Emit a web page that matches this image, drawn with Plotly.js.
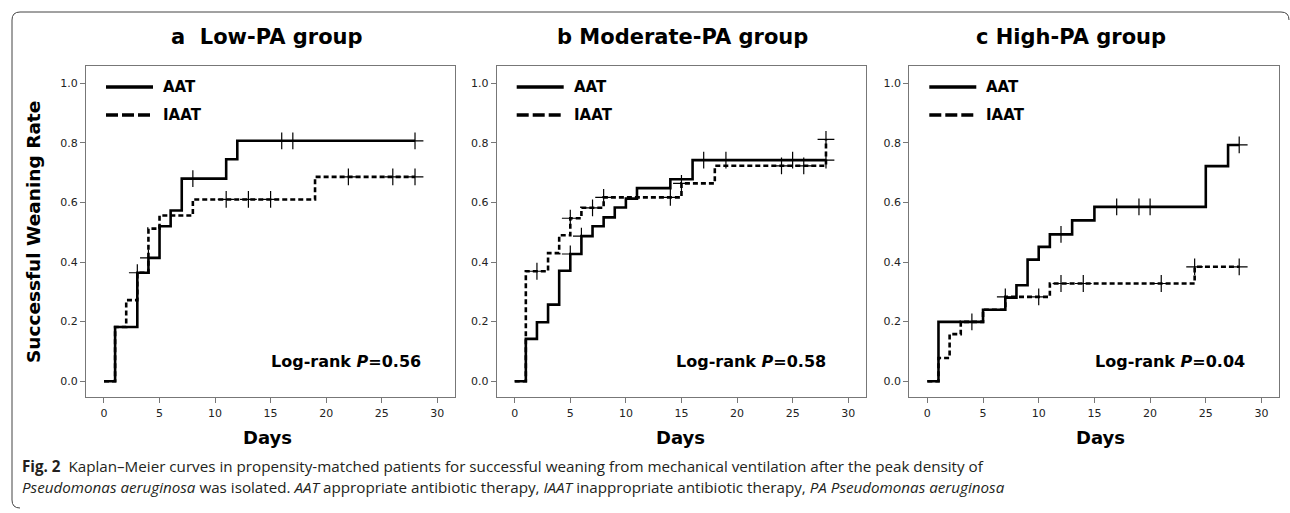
<!DOCTYPE html>
<html>
<head>
<meta charset="utf-8">
<script src="https://cdn.plot.ly/plotly-3.0.1.min.js"></script>
<style>html,body{margin:0;padding:0;background:#fff;}#chart{width:1290px;height:513px;}</style>
</head>
<body>
<div id="chart"></div>
<script>
// ---------- DATA ----------
const panelTitles = ["a\u00a0\u00a0Low-PA group", "b Moderate-PA group", "c High-PA group"];
const pValues = ["0.56", "0.58", "0.04"];
const seriesNames = ["AAT", "IAAT"];

// Panel a: Low-PA
const lowAAT_t   = [0, 1, 3, 4, 5, 6, 7, 11, 12, 28];
const lowAAT_s   = [0, 0.182, 0.364, 0.414, 0.520, 0.573, 0.680, 0.745, 0.807, 0.807];
const lowAAT_c   = [3, 4, 8, 16, 17, 28];
const lowIAAT_t  = [0, 1, 2, 3, 4, 5, 8, 19, 28];
const lowIAAT_s  = [0, 0.182, 0.272, 0.364, 0.512, 0.556, 0.610, 0.686, 0.686];
const lowIAAT_c  = [11, 13, 15, 22, 26, 28];

// Panel b: Moderate-PA
const modAAT_t   = [0, 1, 2, 3, 4, 5, 6, 7, 8, 9, 10, 11, 14, 16, 28];
const modAAT_s   = [0, 0.142, 0.198, 0.257, 0.371, 0.427, 0.487, 0.520, 0.550, 0.583, 0.613, 0.648, 0.678, 0.742, 0.742];
const modAAT_c   = [5, 6, 17, 19, 25, 28];
const modIAAT_t  = [0, 1, 3, 4, 5, 6, 8, 15, 18, 28];
const modIAAT_s  = [0, 0.369, 0.430, 0.490, 0.547, 0.582, 0.617, 0.664, 0.723, 0.812];
const modIAAT_c  = [2, 5, 7, 8, 14, 15, 24, 26, 28];

// Panel c: High-PA
const highAAT_t  = [0, 1, 5, 7, 8, 9, 10, 11, 13, 15, 25, 27, 28];
const highAAT_s  = [0, 0.199, 0.240, 0.280, 0.322, 0.408, 0.451, 0.493, 0.540, 0.585, 0.722, 0.793, 0.793];
const highAAT_c  = [4, 12, 17, 19, 20, 28];
const highIAAT_t = [0, 1, 2, 3, 5, 7, 11, 24, 28];
const highIAAT_s = [0, 0.078, 0.158, 0.199, 0.240, 0.283, 0.328, 0.384, 0.384];
const highIAAT_c = [7, 10, 12, 14, 21, 24, 28];

const xTicks = [0, 5, 10, 15, 20, 25, 30];
const yTicks = [0, 0.2, 0.4, 0.6, 0.8, 1.0];
const yTickText = ["0.0", "0.2", "0.4", "0.6", "0.8", "1.0"];

// ---------- LAYOUT HELPERS ----------
const W = 1290, H = 513;
const PX = v => v / W, PY = v => 1 - v / H;
const panelsX = [[86, 455], [496.7, 866], [909.3, 1279.3]];
const panelY = [66, 397.3];
const titleX = [267, 682, 1071];
const daysX = [267, 680, 1100];
const logrankRight = [422.7, 828, 1247];
const FONT = "DejaVu Sans, Liberation Sans, Arial, sans-serif";

const panels = [
  {aT: lowAAT_t, aS: lowAAT_s, aC: lowAAT_c, iT: lowIAAT_t, iS: lowIAAT_s, iC: lowIAAT_c},
  {aT: modAAT_t, aS: modAAT_s, aC: modAAT_c, iT: modIAAT_t, iS: modIAAT_s, iC: modIAAT_c},
  {aT: highAAT_t, aS: highAAT_s, aC: highAAT_c, iT: highIAAT_t, iS: highIAAT_s, iC: highIAAT_c}
];

function stepAt(t, s, x) {
  let v = s[0];
  for (let i = 0; i < t.length; i++) { if (t[i] <= x) v = s[i]; }
  return v;
}

const traces = [];
const layout = {
  width: W, height: H,
  margin: {l: 0, r: 0, t: 0, b: 0},
  paper_bgcolor: "#fff", plot_bgcolor: "#fff",
  showlegend: false,
  annotations: [], shapes: []
};

panels.forEach((p, k) => {
  const xa = k === 0 ? "x" : "x" + (k + 1);
  const ya = k === 0 ? "y" : "y" + (k + 1);
  const lineCommon = {mode: "lines", line: {shape: "hv", color: "#000", width: 2.6}, xaxis: xa, yaxis: ya, hoverinfo: "skip"};
  traces.push(Object.assign({}, lineCommon, {x: p.iT, y: p.iS, name: seriesNames[1], line: {shape: "hv", color: "#000", width: 2.6, dash: "5px,3px"}}));
  traces.push(Object.assign({}, lineCommon, {x: p.aT, y: p.aS, name: seriesNames[0]}));
  const mk = {mode: "markers", marker: {symbol: "cross-thin", size: 12, line: {color: "#000", width: 1.2}}, xaxis: xa, yaxis: ya, hoverinfo: "skip"};
  traces.push(Object.assign({}, mk, {x: p.aC, y: p.aC.map(c => stepAt(p.aT, p.aS, c))}));
  traces.push(Object.assign({}, mk, {x: p.iC, y: p.iC.map(c => stepAt(p.iT, p.iS, c))}));

  const axCommon = {
    showline: true, mirror: true, linecolor: "#777", linewidth: 1,
    ticks: "outside", ticklen: 5, tickcolor: "#777", tickwidth: 1,
    showgrid: false, zeroline: false,
    tickfont: {family: FONT, size: 11, color: "#222"}, fixedrange: true
  };
  layout["xaxis" + (k === 0 ? "" : k + 1)] = Object.assign({}, axCommon, {
    domain: [PX(panelsX[k][0]), PX(panelsX[k][1])], anchor: ya,
    range: [-1.62, 31.6], tickvals: xTicks, ticktext: xTicks.map(String)
  });
  layout["yaxis" + (k === 0 ? "" : k + 1)] = Object.assign({}, axCommon, {
    domain: [PY(panelY[1]), PY(panelY[0])], anchor: xa,
    range: [-0.054, 1.058], tickvals: yTicks, ticktext: yTickText
  });

  // panel titles
  layout.annotations.push({text: "<b>" + panelTitles[k] + "</b>", x: PX(titleX[k]), y: PY(37), xref: "paper", yref: "paper",
    xanchor: "center", yanchor: "middle", showarrow: false, font: {family: FONT, size: 21, color: "#000"}});
  // Days
  layout.annotations.push({text: "<b>Days</b>", x: PX(daysX[k]), y: PY(437), xref: "paper", yref: "paper",
    xanchor: "center", yanchor: "middle", showarrow: false, font: {family: FONT, size: 18, color: "#000"}});
  // log-rank
  layout.annotations.push({text: "<b>Log-rank <i>P</i>=" + pValues[k] + "</b>", x: PX(logrankRight[k]), y: PY(361), xref: "paper", yref: "paper",
    xanchor: "right", yanchor: "middle", showarrow: false, font: {family: FONT, size: 16, color: "#000"}});
  // legend
  const L = panelsX[k][0];
  layout.shapes.push({type: "line", xref: "paper", yref: "paper", x0: PX(L + 20), x1: PX(L + 67), y0: PY(87), y1: PY(87), line: {color: "#000", width: 3.5}});
  layout.shapes.push({type: "line", xref: "paper", yref: "paper", x0: PX(L + 20), x1: PX(L + 67), y0: PY(115), y1: PY(115), line: {color: "#000", width: 3.5, dash: "12px,4px"}});
  layout.annotations.push({text: "<b>" + seriesNames[0] + "</b>", x: PX(L + 75), y: PY(87), xref: "paper", yref: "paper",
    xanchor: "left", yanchor: "middle", showarrow: false, font: {family: FONT, size: 15, color: "#000"}});
  layout.annotations.push({text: "<b>" + seriesNames[1] + "</b>", x: PX(L + 75), y: PY(115), xref: "paper", yref: "paper",
    xanchor: "left", yanchor: "middle", showarrow: false, font: {family: FONT, size: 15, color: "#000"}});
});

// y-axis title
layout.annotations.push({text: "<b>Successful Weaning Rate</b>", x: PX(33), y: PY(232), xref: "paper", yref: "paper",
  xanchor: "center", yanchor: "middle", textangle: -90, showarrow: false, font: {family: FONT, size: 18.5, color: "#000"}});

// caption
const CAP = "Open Sans, Noto Sans, sans-serif";
layout.annotations.push({text: "<b>Fig. 2</b>\u00a0\u00a0Kaplan\u2013Meier curves in propensity-matched patients for successful weaning from mechanical ventilation after the peak density of",
  x: PX(20), y: PY(466), xref: "paper", yref: "paper", xanchor: "left", yanchor: "middle", showarrow: false, font: {family: CAP, size: 15.2, color: "#231f20"}});
layout.annotations.push({text: "<i>Pseudomonas aeruginosa</i> was isolated. <i>AAT</i> appropriate antibiotic therapy, <i>IAAT</i> inappropriate antibiotic therapy, <i>PA Pseudomonas aeruginosa</i>",
  x: PX(20), y: PY(487), xref: "paper", yref: "paper", xanchor: "left", yanchor: "middle", showarrow: false, font: {family: CAP, size: 15.2, color: "#231f20"}});

// frame
layout.shapes.push({type: "path", xref: "paper", yref: "paper",
  path: `M ${PX(1289)} ${PY(20)} Q ${PX(1289)} ${PY(12)} ${PX(1281)} ${PY(12)} L ${PX(20)} ${PY(12)} Q ${PX(12)} ${PY(12)} ${PX(12)} ${PY(20)} L ${PX(12)} ${PY(500)} Q ${PX(12)} ${PY(508)} ${PX(20)} ${PY(508)}`,
  line: {color: "#444", width: 1}});

Plotly.newPlot("chart", traces, layout, {displayModeBar: false, staticPlot: true});
</script>
</body>
</html>
